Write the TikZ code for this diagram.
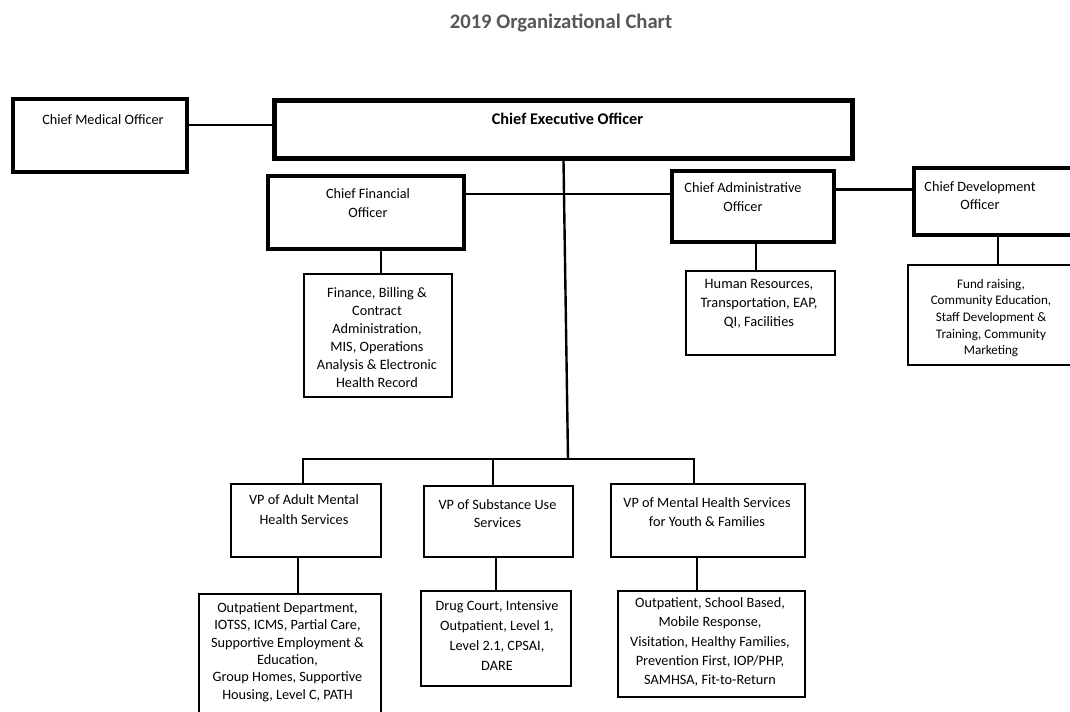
\documentclass[tikz,border=0pt]{standalone}
\usepackage{fontspec}
\setmainfont{Carlito}
\begin{document}
\begin{tikzpicture}[x=0.75pt,y=-0.75pt,
  bx/.style 2 args={draw, rectangle, inner sep=0pt, minimum width=#1*0.75pt, minimum height=#2*0.75pt},
  tbox/.style={line width=3.6pt},
  nbox/.style={line width=2pt},
  txt/.style={align=center, inner sep=0pt, font=\fontsize{10.7}{14}\selectfont},
  link/.style={line width=1.8pt},
  titlestyle/.style={inner sep=0pt, text=black!66, font=\bfseries\fontsize{15.5}{18}\selectfont}]

\useasboundingbox (0,0) rectangle (1070,711);
\clip (0,0) rectangle (1070,711);

% title
\node[titlestyle, anchor=base] (title) at (561,28) {2019 Organizational Chart};

% boxes
\node[bx={174}{73}, tbox] (cmo) at (100,135.5) {};
\node[bx={578}{58}, tbox] (ceo) at (563.5,129.5) {};
\node[bx={196}{73}, tbox] (cfo) at (366,212.5) {};
\node[bx={162}{71}, tbox] (cao) at (753,206.5) {};
\node[bx={171}{67}, tbox] (cdo) at (999.5,201.5) {};
\node[bx={148}{123}, nbox] (fin) at (378,335.5) {};
\node[bx={149}{84}, nbox] (hr) at (760.5,313) {};
\node[bx={177}{100}, nbox] (fund) at (996.5,315) {};
\node[bx={150}{73}, nbox] (vpa) at (306,520.5) {};
\node[bx={149}{71}, nbox] (vps) at (498.5,521.5) {};
\node[bx={194}{73}, nbox] (vpy) at (708,520.5) {};
\node[bx={182}{126}, nbox] (ada) at (290,657) {};
\node[bx={150}{95}, nbox] (sua) at (496,638.5) {};
\node[bx={187}{106}, nbox] (yoa) at (711.5,644) {};

% texts
\node[txt] (cmoT) at (103,120) {Chief Medical Officer};
\node[txt, font=\bfseries\fontsize{12.2}{15}\selectfont] (ceoT) at (567.5,118.6) {Chief Executive Officer};
\node[txt, font=\fontsize{10.7}{14.2}\selectfont] (cfoT) at (368,203.5) {Chief Financial\\Officer};
\node[txt, font=\fontsize{10.7}{14.2}\selectfont] (caoT) at (743,197.5) {Chief Administrative\\Officer};
\node[txt, font=\fontsize{10.7}{13.5}\selectfont] (cdoT) at (980,196) {Chief Development\\Officer};
\node[txt, font=\fontsize{10.7}{13.4}\selectfont] (finT) at (377,337.5) {Finance, Billing \&\\Contract\\Administration,\\MIS, Operations\\Analysis \& Electronic\\Health Record};
\node[txt, font=\fontsize{10.8}{14.3}\selectfont] (hrT) at (759,304) {Human Resources,\\Transportation, EAP,\\QI, Facilities};
\node[txt, font=\fontsize{9.8}{12.5}\selectfont] (fundT) at (991,318) {Fund raising,\\Community Education,\\Staff Development \&\\Training, Community\\Marketing};
\node[txt, font=\fontsize{10.7}{15}\selectfont] (vpaT) at (304,510) {VP of Adult Mental\\Health Services};
\node[txt, font=\fontsize{10.7}{13.5}\selectfont] (vpsT) at (497.5,514) {VP of Substance Use\\Services};
\node[txt, font=\fontsize{10.7}{14.2}\selectfont] (vpyT) at (707,512.5) {VP of Mental Health Services\\for Youth \& Families};
\node[txt, font=\fontsize{10.7}{13}\selectfont] (adaT) at (287.5,652) {Outpatient Department,\\IOTSS, ICMS, Partial Care,\\Supportive Employment \&\\Education,\\Group Homes, Supportive\\Housing, Level C, PATH};
\node[txt, font=\fontsize{10.7}{15}\selectfont] (suaT) at (497,636) {Drug Court, Intensive\\Outpatient, Level 1,\\Level 2.1, CPSAI,\\DARE};
\node[txt, font=\fontsize{10.7}{14.6}\selectfont] (yoaT) at (710,642) {Outpatient, School Based,\\Mobile Response,\\Visitation, Healthy Families,\\Prevention First, IOP/PHP,\\SAMHSA, Fit-to-Return};

% connectors
\coordinate (bus) at (568,459);
\coordinate (busL) at (303,459);
\coordinate (busS) at (493,459);
\coordinate (busY) at (694,459);
\draw[link] (cmo.east |- 0,125) -- (ceo.west |- 0,125);
\draw[link] (ceo.south) -- (bus);
\draw[link] (cfo.east |- 0,194) -- (cao.west |- 0,194);
\draw[link] (cao.east |- 0,189.5) -- (cdo.west |- 0,189.5);
\draw[link] (cfo.south -| 381,0) -- (fin.north -| 381,0);
\draw[link] (cao.south -| 756,0) -- (hr.north -| 756,0);
\draw[link] (cdo.south -| 998,0) -- (fund.north -| 998,0);
\draw[link] (vpa.north -| busL) -- (busL) -- (busY) -- (vpy.north -| busY);
\draw[link] (busS) -- (vps.north -| busS);
\draw[link] (vpa.south -| 298,0) -- (ada.north -| 298,0);
\draw[link] (vps.south -| 496,0) -- (sua.north -| 496,0);
\draw[link] (vpy.south -| 697,0) -- (yoa.north -| 697,0);
\end{tikzpicture}
\end{document}
